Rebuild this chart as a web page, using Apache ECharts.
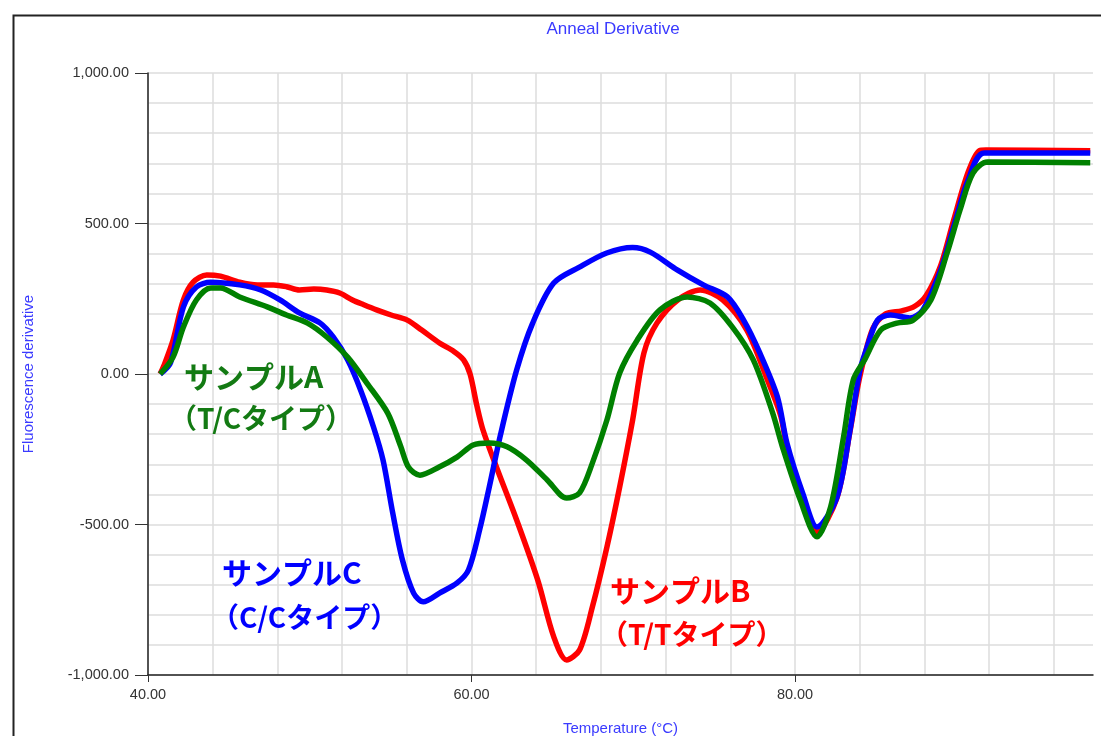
<!DOCTYPE html>
<html>
<head>
<meta charset="utf-8">
<script src="https://cdn.jsdelivr.net/npm/echarts@6/dist/echarts.min.js"></script>
<style>
html,body{margin:0;padding:0;background:#fff;}
#chart{width:1101px;height:736px;}
</style>
</head>
<body>
<div id="chart"></div>
<script>
// ---- Data ----
const titleText = "Anneal Derivative";
const xName = "Temperature (°C)";
const yName = "Fluorescence derivative";
const xLabelValues = [40, 60, 80];
const yLabelValues = [-1000, -500, 0, 500, 1000];

// サンプルB (T/Tタイプ) – red
const sampleB_T = [40.75,41.0,41.55,42.19,42.79,43.63,44.48,45.67,46.77,47.76,48.56,49.36,50.25,51.05,51.85,52.64,53.34,54.13,55.03,56.03,56.92,58.02,58.91,59.51,59.91,60.31,60.71,61.61,62.79,64.09,65.09,65.88,66.68,67.47,68.37,69.16,69.96,70.66,71.46,72.75,74.14,75.53,77.02,78.22,79.12,79.52,80.52,81.36,82.6,83.4,84.0,84.8,85.6,86.6,87.4,88.1,89.0,89.8,90.7,91.4,91.8,98.25];
const sampleB_V = [0,30,113,246,305,329,325,305,296,296,290,279,282,279,269,246,230,213,196,179,146,103,75,47,0,-100,-186,-319,-485,-684,-874,-950,-917,-774,-575,-375,-153,70,169,246,279,246,146,-10,-140,-250,-420,-525,-410,-190,-10,150,200,210,225,260,360,510,670,742,744,742];

// サンプルC (C/Cタイプ) – blue
const sampleC_T = [40.75,41.39,42.19,42.99,43.88,45.67,46.97,48.16,49.36,50.65,51.45,52.34,53.14,53.94,54.53,55.13,55.73,56.42,57.02,58.02,59.11,59.81,60.5,61.1,61.8,62.79,63.78,65.08,66.67,68.36,69.96,71.05,72.74,74.33,75.82,76.82,77.82,78.91,79.5,80.5,81.36,82.6,83.4,84.0,84.4,85.1,85.9,87.1,87.9,89.0,89.8,90.7,91.7,98.25];
const sampleC_V = [0,37,223,289,305,296,279,246,203,169,123,47,-53,-176,-286,-462,-618,-728,-757,-728,-694,-651,-518,-375,-200,13,169,302,355,402,420,405,345,296,256,179,70,-76,-230,-400,-508,-408,-186,10,80,179,196,186,213,345,488,644,734,734];

// サンプルA (T/Cタイプ) – green
const sampleA_T = [40.75,41.55,42.19,42.99,43.88,44.48,45.67,47.37,48.56,49.86,51.05,52.34,53.53,54.82,55.62,56.11,56.81,58.0,59.1,60.1,61.1,62.2,63.4,64.68,65.88,66.68,67.47,68.37,69.16,70.25,71.65,73.34,74.74,76.13,77.42,78.62,79.22,80.32,81.36,82.2,83.0,83.6,84.3,85.3,86.3,87.3,88.4,89.4,90.2,91.0,91.9,98.25];
const sampleA_V = [0,56,156,246,286,286,256,223,196,169,123,56,-30,-130,-240,-310,-336,-309,-276,-236,-229,-242,-286,-352,-412,-395,-296,-153,3,113,213,256,236,156,47,-130,-242,-418,-541,-442,-209,-20,47,146,169,179,246,402,545,667,704,702];

const labelA = ["サンプルA", "（T/Cタイプ）"];
const labelB = ["サンプルB", "（T/Tタイプ）"];
const labelC = ["サンプルC", "（C/Cタイプ）"];

function zip(t, v){ return t.map((x,i)=>[x, v[i]]); }
function fmt(v){
  const s = Math.abs(v).toFixed(2);
  const parts = s.split('.');
  parts[0] = parts[0].replace(/\B(?=(\d{3})+(?!\d))/g, ',');
  return (v < 0 ? '-' : '') + parts.join('.');
}

const chart = echarts.init(document.getElementById('chart'), null, {renderer:'canvas', width: 1101, height: 736});
const jp = '"Noto Sans CJK JP", sans-serif';
const latin = 'Liberation Sans';
const lineW = 5.5;
const gridColor = '#dcdcdc';
const nameColor = '#3a3aff';

const option = {
  animation: false,
  backgroundColor: '#ffffff',
  title: {
    text: titleText, left: 608, top: 16, textAlign: 'center',
    textStyle: {color: nameColor, fontSize: 17, fontWeight: 'normal', fontFamily: latin}
  },
  grid: {left: 148, top: 73, width: 945, height: 602, containLabel: false, outerBoundsMode: 'none'},
  xAxis: [
    { // grid lines every 4
      type: 'value', min: 40, max: 98.42, interval: 4, position: 'bottom',
      axisLine: {show: false}, axisTick: {show: false}, axisLabel: {show: false},
      splitLine: {show: true, showMaxLine: false, lineStyle: {color: gridColor, width: 1.5}}
    },
    { // labelled axis
      type: 'value', min: 40, max: 98.42, interval: 20, position: 'bottom',
      name: xName, nameLocation: 'middle', nameGap: 46,
      nameTextStyle: {color: nameColor, fontSize: 15, fontFamily: latin},
      axisLine: {show: true, onZero: false, lineStyle: {color: '#222', width: 1.5}},
      axisTick: {show: true, customValues: xLabelValues, length: 7, lineStyle: {color: '#333', width: 1}},
      axisLabel: {show: true, customValues: xLabelValues, formatter: fmt, margin: 12,
        color: '#333', fontSize: 14.5, fontFamily: latin},
      splitLine: {show: false}
    }
  ],
  yAxis: [
    { // grid lines every 100
      type: 'value', min: -1000, max: 1000, interval: 100, position: 'left',
      axisLine: {show: false}, axisTick: {show: false}, axisLabel: {show: false},
      splitLine: {show: true, lineStyle: {color: gridColor, width: 1.5}}
    },
    {
      type: 'value', min: -1000, max: 1000, interval: 500, position: 'left',
      name: yName, nameLocation: 'middle', nameGap: 112, nameRotate: 90,
      nameTextStyle: {color: nameColor, fontSize: 15, fontFamily: latin},
      axisLine: {show: true, onZero: false, lineStyle: {color: '#222', width: 1.5}},
      axisTick: {show: true, customValues: yLabelValues, length: 13, lineStyle: {color: '#333', width: 1}},
      axisLabel: {show: true, customValues: yLabelValues, formatter: fmt, margin: 19,
        color: '#333', fontSize: 14.5, fontFamily: latin},
      splitLine: {show: false}
    }
  ],
  series: [
    {name: labelB[0], type: 'line', xAxisIndex: 0, yAxisIndex: 0, data: zip(sampleB_T, sampleB_V), showSymbol: false, smooth: 0.3,
      lineStyle: {color: '#ff0000', width: lineW}, itemStyle: {color: '#ff0000'}, z: 2},
    {name: labelC[0], type: 'line', xAxisIndex: 0, yAxisIndex: 0, data: zip(sampleC_T, sampleC_V), showSymbol: false, smooth: 0.3,
      lineStyle: {color: '#0000ff', width: lineW}, itemStyle: {color: '#0000ff'}, z: 3},
    {name: labelA[0], type: 'line', xAxisIndex: 0, yAxisIndex: 0, data: zip(sampleA_T, sampleA_V), showSymbol: false, smooth: 0.3,
      lineStyle: {color: '#008000', width: lineW}, itemStyle: {color: '#008000'}, z: 4}
  ],
  graphic: [
    {type: 'rect', left: 11, top: 13, z: 100, silent: true,
      shape: {x: 0, y: 0, width: 1200, height: 1000},
      style: {fill: 'none', stroke: '#222', lineWidth: 2}},
    {type: 'text', left: 184, top: 362, z: 50, style: {text: labelA[0], fill: '#137a13', font: 'bold 30px ' + jp}},
    {type: 'text', left: 169, top: 404, z: 50, style: {text: labelA[1], fill: '#137a13', font: 'bold 28px ' + jp}},
    {type: 'text', left: 222, top: 558, z: 50, style: {text: labelC[0], fill: '#0000ff', font: 'bold 30px ' + jp}},
    {type: 'text', left: 211, top: 603, z: 50, style: {text: labelC[1], fill: '#0000ff', font: 'bold 28px ' + jp}},
    {type: 'text', left: 610, top: 576, z: 50, style: {text: labelB[0], fill: '#ff0000', font: 'bold 30px ' + jp}},
    {type: 'text', left: 600, top: 620, z: 50, style: {text: labelB[1], fill: '#ff0000', font: 'bold 28px ' + jp}}
  ]
};
chart.setOption(option);
</script>
</body>
</html>
